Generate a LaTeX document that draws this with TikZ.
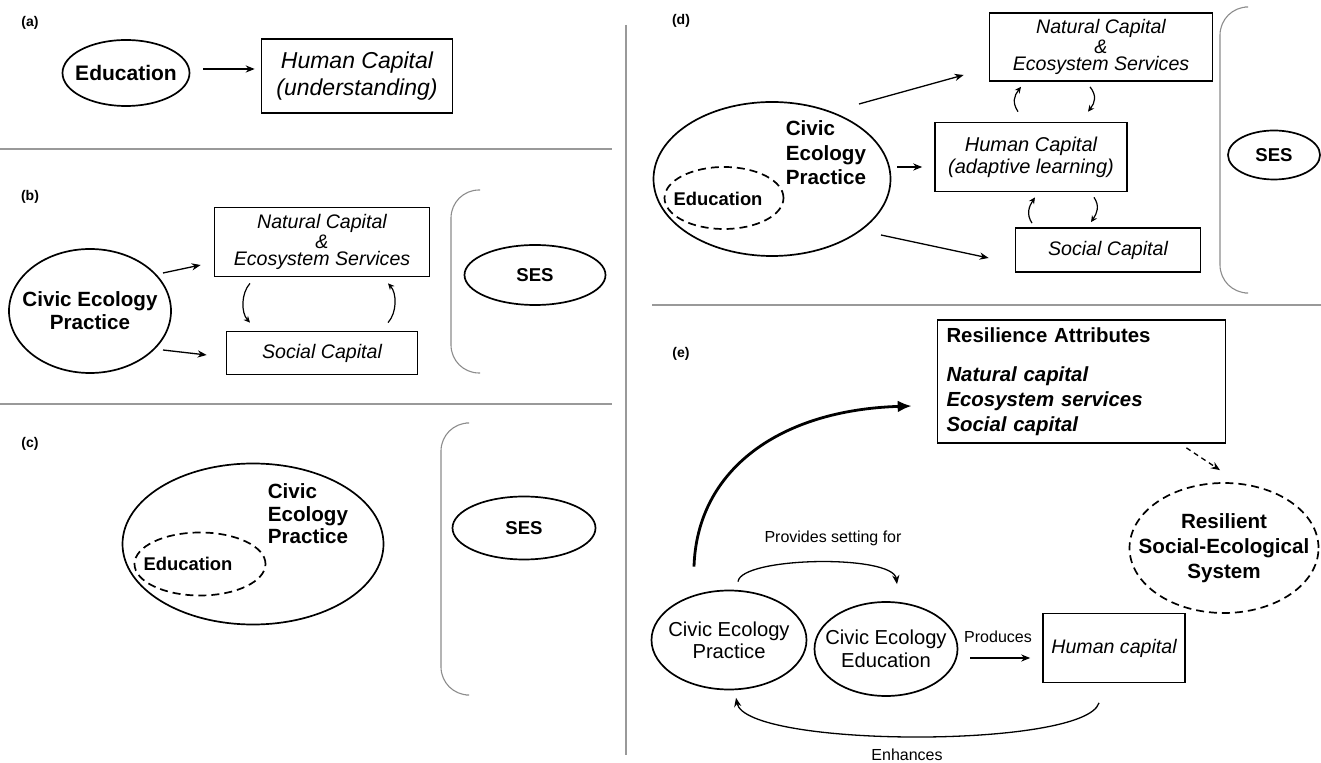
\documentclass[tikz,border=0pt]{standalone}
\usepackage{fontspec}
\setmainfont{Liberation Sans}
\usetikzlibrary{arrows.meta, positioning, shapes.geometric, calc}
\tikzset{
  every picture/.style={line width=0.85pt},
  box/.style={draw, rectangle, align=center, inner sep=2pt},
  blob/.style={draw, ellipse, align=center, inner sep=-10pt},
  dblob/.style={blob, dash pattern=on 4pt off 2.5pt},
  arrow/.style={-{Stealth[length=4.5pt, width=3.6pt]}, line width=0.65pt},
  swirl/.style={-{Stealth[length=3.2pt, width=3pt]}, line width=0.6pt},
  big arrow/.style={-{Latex[length=7pt, width=6pt]}, line width=1.4pt},
  brace/.style={draw=black!45, line width=0.55pt, rounded corners=14pt},
  sep/.style={draw=black!40, line width=0.55pt},
  panel/.style={font=\fontsize{7}{8}\selectfont\bfseries},
  txtb/.style={font=\fontsize{10.3}{#1}\selectfont\bfseries}, txtb/.default=12,
  txti/.style={font=\fontsize{9.8}{#1}\selectfont\itshape}, txti/.default=11,
  txtr/.style={font=\fontsize{10.1}{#1}\selectfont}, txtr/.default=11,
  sesfont/.style={font=\fontsize{9.3}{11}\selectfont\bfseries},
  edufont/.style={font=\fontsize{9.2}{11}\selectfont\bfseries},
  note/.style={font=\fontsize{8}{9}\selectfont},
}

\begin{document}
\begin{tikzpicture}[x=0.5pt, y=-0.5pt]
  \useasboundingbox (0,0) rectangle (1321,763);
  % frame lines
  \draw[sep] (0,149) -- (612,149);
  \draw[sep] (0,404) -- (612,404);
  \draw[sep] (652,305) -- (1321,305);
  \draw[sep] (626,25) -- (626,755);
  \node[panel] (pa) at (30,23) {(a)};
  \node[panel] (pb) at (30,197) {(b)};
  \node[panel] (pc) at (30,444) {(c)};
  \node[panel] (pd) at (681,21) {(d)};
  \node[panel] (pe) at (681,354) {(e)};

  % (a)
  \node[blob, font=\fontsize{10.5}{12}\selectfont\bfseries, minimum width=63.5pt, minimum height=33pt] (edu1) at (126,73) {Education};
  \node[box, font=\fontsize{11.5}{13.5}\selectfont\itshape, minimum width=95.5pt, minimum height=37pt] (hc1) at (357,76) {Human Capital\\(understanding)};
  \draw[arrow] ($(edu1.east)+(13,-4)$) -- ($(hc1.west)+(-6,-7)$);

  % (b)
  \node[blob, txtb=11.5, minimum width=81pt, minimum height=62pt] (cep2) at (90,311) {Civic Ecology\\Practice};
  \node[box, txti=8.75, minimum width=107.5pt, minimum height=34.5pt] (nat2) at (322,242) {Natural Capital\\\&\\Ecosystem Services};
  \node[box, txti, minimum width=95.5pt, minimum height=21.5pt] (soc2) at (322,353) {Social Capital};
  \node[blob, sesfont, minimum width=70.5pt, minimum height=30pt] (ses2) at (535,275) {SES};
  \draw[arrow] ($(cep2.center)+(73,-38)$) -- ($(nat2.west)+(-13,23)$);
  \draw[arrow] ($(cep2.center)+(73,39)$) -- ($(soc2.west)+(-19,2)$);
  \draw[swirl] ($(nat2.south)+(-72,6)$) .. controls +(-9,10) and +(-9,-10) .. ($(soc2.north)+(-72,-8)$);
  \draw[swirl] ($(soc2.north)+(66,-8)$) .. controls +(9,-10) and +(9,10) .. ($(nat2.south)+(66,6)$);
  \draw[brace] (480,190) -- (451,190) -- (451,373) -- (480,373);

  % (c)
  \node[blob, minimum width=130.5pt, minimum height=80.5pt] (cep3) at (253,544) {};
  \node[txtb=11.25, align=left, anchor=west, inner sep=0] (cep3t) at (267,514) {Civic\\Ecology\\Practice};
  \node[dblob, minimum width=65.5pt, minimum height=31.5pt] (edu3) at (200,564) {};
  \node[edufont, inner sep=0] (edu3t) at (188,564) {Education};
  \draw[brace] (466,423) -- (441,423) -- (441,695) -- (466,695);
  \node[blob, sesfont, minimum width=71.5pt, minimum height=31.5pt] (ses3) at (524,528) {SES};

  % (d)
  \node[box, txti=8.5, minimum width=111.5pt, minimum height=34pt] (nat4) at (1101,47) {Natural Capital\\\&\\Ecosystem Services};
  \node[box, font=\fontsize{10}{11}\selectfont\itshape, minimum width=96pt, minimum height=34.5pt] (hc4) at (1031,157) {Human Capital\\(adaptive learning)};
  \node[box, txti, minimum width=92.5pt, minimum height=22pt] (soc4) at (1108,250) {Social Capital};
  \node[blob, minimum width=118.5pt, minimum height=77pt] (cep4) at (772,179) {};
  \node[txtb=12.25, align=left, anchor=west, inner sep=0] (cep4t) at (785,153) {Civic\\Ecology\\Practice};
  \node[dblob, minimum width=59.5pt, minimum height=31pt] (edu4) at (724,198) {};
  \node[edufont, inner sep=0] (edu4t) at (718,199) {Education};
  \draw[arrow] ($(cep4.center)+(87,-75)$) -- ($(nat4.west)+(-25,28)$);
  \draw[arrow] ($(cep4.center)+(125,-12)$) -- ($(hc4.west)+(-12,10)$);
  \draw[arrow] ($(cep4.center)+(109,56)$) -- ($(soc4.west)+(-26,8)$);
  \draw[swirl] ($(hc4.north)+(-13,-10)$) .. controls +(-6,-9) and +(-7,9) .. ($(nat4.south)+(-80,5)$);
  \draw[swirl] ($(nat4.south)+(-11,5)$) .. controls +(7,9) and +(7,-9) .. ($(hc4.north)+(57,-10)$);
  \draw[swirl] ($(soc4.north)+(-76,-4)$) .. controls +(-6,-9) and +(-6,9) .. ($(hc4.south)+(4,5)$);
  \draw[swirl] ($(hc4.south)+(63,5)$) .. controls +(6,9) and +(6,-9) .. ($(soc4.north)+(-17,-5)$);
  \draw[brace] (1245,7) -- (1220,7) -- (1220,293) -- (1245,293);
  \node[blob, sesfont, minimum width=46pt, minimum height=24.5pt] (ses4) at (1274,155) {SES};

  % (e)
  \node[box, align=left, text width=135pt, inner xsep=4.5pt, minimum height=61.5pt, font=\fontsize{10.2}{12.5}\selectfont\bfseries] (res) at (1081.5,381.5)
    {Resilience Attributes\\[7pt]\itshape Natural capital\\\itshape Ecosystem services\\\itshape Social capital};
  \node[dblob, txtb=12.5, minimum width=94.5pt, minimum height=65pt] (rses) at (1224,548) {Resilient\\Social-Ecological\\System};
  \node[blob, txtr=11, minimum width=77.5pt, minimum height=49.5pt] (cep5) at (729,640) {Civic Ecology\\Practice};
  \node[blob, txtr=11.5, minimum width=71.5pt, minimum height=47pt] (cee5) at (886,649) {Civic Ecology\\Education};
  \node[box, txti, minimum width=71pt, minimum height=34.5pt] (hc5) at (1114,648) {Human capital};
  \node[note] (prov) at (833,538) {Provides setting for};
  \node[note] (prod) at (998,637) {Produces};
  \node[note] (enh) at (907,755) {Enhances};
  \draw[big arrow] ($(cep5.north)+(-35,-23)$) .. controls +(3,-97) and +(-132,4) .. ($(res.west)+(-25,24.5)$);
  \draw[arrow] ($(cep5.north)+(9,-8)$) .. controls +(3,-25) and +(-4,-30) .. ($(cee5.north)+(11,-17)$);
  \draw[arrow] ($(cee5.east)+(12,9)$) -- ($(hc5.west)+(-12,10)$);
  \draw[arrow] ($(hc5.south)+(-15,19.5)$) .. controls +(-14,46) and +(10,50) .. ($(cep5.south)+(7,7.5)$);
  \draw[arrow, dash pattern=on 2.5pt off 2pt] ($(res.south east)+(-40,4)$) -- ($(rses.north)+(-4,-12)$);
\end{tikzpicture}
\end{document}
